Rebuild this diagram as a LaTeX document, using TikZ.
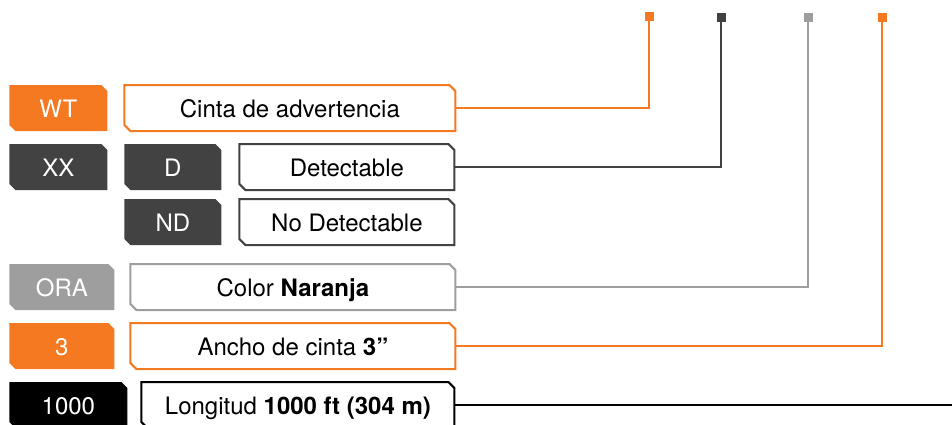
\documentclass[tikz,border=0pt]{standalone}
\usepackage{fontspec}
\setmainfont{TeX Gyre Heros}
\usepackage{tikz}
\usetikzlibrary{positioning}
\definecolor{tapeorange}{RGB}{244,121,32}
\definecolor{tapedark}{RGB}{66,66,66}
\definecolor{tapegrey}{RGB}{158,158,158}

\begin{document}
\begin{tikzpicture}[x=0.5pt, y=-0.5pt, line cap=rect, line join=miter,
	cut/.style={rectangle, inner sep=0pt, minimum height=24pt, anchor=west,
		text height=10pt, text depth=0.4pt, font=\fontsize{12}{14}\selectfont,
		path picture={\path[#1]
			([xshift=0.5pt, yshift=-0.5pt]path picture bounding box.north west) --
			([xshift=-3.5pt, yshift=-0.5pt]path picture bounding box.north east) --
			([xshift=-0.5pt, yshift=-3.5pt]path picture bounding box.north east) --
			([xshift=-0.5pt, yshift=0.5pt]path picture bounding box.south east) --
			([xshift=3.5pt, yshift=0.5pt]path picture bounding box.south west) --
			([xshift=0.5pt, yshift=3.5pt]path picture bounding box.south west) -- cycle;}},
	code/.style={cut={fill=#1}, text=white},
	desc/.style={cut={fill=white, draw=#1, line width=1pt}, text=black},
	tip/.style={rectangle, fill=#1, minimum size=4.5pt, inner sep=0pt},
	lead/.style={line width=1pt, draw=#1}]
	\useasboundingbox (0,0) rectangle (952,424);
	
	% codes and descriptions
	\node[code=tapeorange, minimum width=50pt] (wt) at (8,108) {WT};
	\node[desc=tapeorange, minimum width=166.5pt] (cinta) at (123,108) {Cinta de advertencia};
	
	\node[code=tapedark, minimum width=50pt] (xx) at (8,167) {XX};
	\node[code=tapedark, minimum width=49.5pt] (d) at (123,167) {D};
	\node[desc=tapedark, minimum width=108.5pt] (det) at (238,167) {Detectable};
	\node[code=tapedark, minimum width=49.5pt] (nd) at (123,222) {ND};
	\node[desc=tapedark, minimum width=108.5pt] (nodet) at (238,222) {No Detectable};
	
	\node[code=tapegrey, minimum width=53.5pt] (ora) at (8,287) {ORA};
	\node[desc=tapegrey, minimum width=163.5pt] (color) at (129,287) {Color \textbf{Naranja}};
	
	\node[code=tapeorange, minimum width=53.5pt] (ancho) at (8,346) {3};
	\node[desc=tapeorange, minimum width=163.5pt] (anchod) at (129,346) {Ancho de cinta \textbf{3”}};
	
	\node[code=black, minimum width=60pt] (len) at (8,405) {1000};
	\node[desc=black, minimum width=157.5pt] (lend) at (140,405) {Longitud \textbf{1000 ft (304 m)}};
	
	% tips at the top
	\node[tip=tapeorange] (tipA) at (649,16) {};
	\node[tip=tapedark] (tipB) at (721,17) {};
	\node[tip=tapegrey] (tipC) at (808,17) {};
	\node[tip=tapeorange] (tipD) at (882,17) {};
	\coordinate (edge) at (952,405);
	
	% leads
	\draw[lead=tapeorange] (cinta.east) -| (tipA);
	\draw[lead=tapedark] (det.east) -| (tipB);
	\draw[lead=tapegrey] (color.east) -| (tipC);
	\draw[lead=tapeorange] (anchod.east) -| (tipD);
	\draw[lead=black] (lend.east) -- (edge);

\end{tikzpicture}
\end{document}
